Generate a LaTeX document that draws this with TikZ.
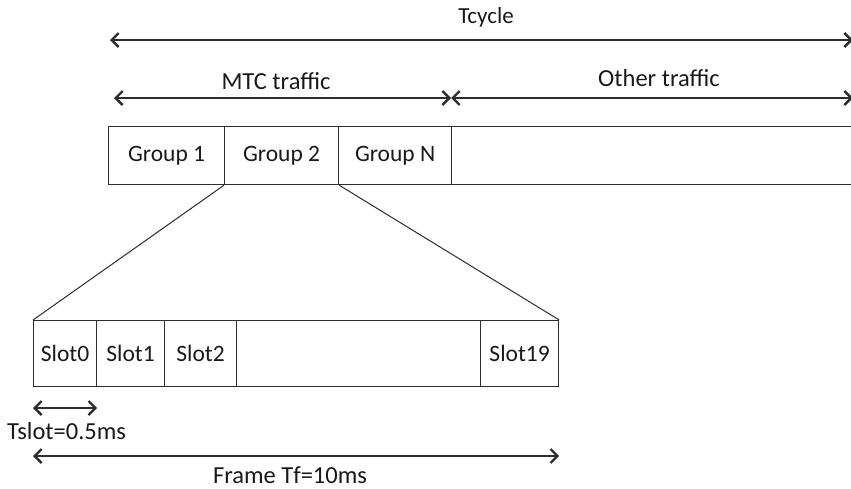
\documentclass[tikz,border=0pt]{standalone}
\usepackage{fontspec}
\setmainfont{Carlito}
\usetikzlibrary{arrows.meta}
\definecolor{ln}{RGB}{45,45,45}
\tikzset{
  x=1pt,y=-1pt,
  cell/.style={draw=ln,line width=1.2pt,minimum height=58pt,inner sep=0pt,anchor=north west},
  scell/.style={draw=ln,line width=1.2pt,minimum height=66pt,inner sep=0pt,anchor=north west},
  dim/.style={draw=ln,line width=1.2pt,{Straight Barb[length=7pt,width=14pt,line width=2.4pt]}-{Straight Barb[length=7pt,width=14pt,line width=2.4pt]}},
  lbl/.style={font=\fontsize{23.5}{27}\selectfont,text=black!90,inner sep=0pt},
  big/.style={font=\fontsize{24.5}{28}\selectfont,text=black!90,inner sep=0pt},
  tcy/.style={font=\fontsize{23}{27}\selectfont,text=black!90,inner sep=0pt},
  zoomln/.style={draw=ln,line width=1pt}
}
\begin{document}
\begin{tikzpicture}
\useasboundingbox (0,0) rectangle (851,488);
% top row
\node[cell,minimum width=116pt] (g1) at (108,126) {};
\node[lbl] at (g1.center) {Group 1};
\node[cell,minimum width=114pt] (g2) at (224,126) {};
\node[lbl] at (g2.center) {Group 2};
\node[cell,minimum width=113pt] (gn) at (338,126) {};
\node[lbl] at (gn.center) {Group N};
\node[cell,minimum width=420pt] (rest) at (451,126) {};
% bottom row
\node[scell,minimum width=63pt] (s0) at (33,320) {};
\node[lbl] at (s0.center) {Slot0};
\node[scell,minimum width=68pt] (s1) at (96,320) {};
\node[lbl] at (s1.center) {Slot1};
\node[scell,minimum width=72pt] (s2) at (164,320) {};
\node[lbl] at (s2.center) {Slot2};
\node[scell,minimum width=244pt] (sm) at (236,320) {};
\node[scell,minimum width=78pt] (s19) at (480,320) {};
\node[lbl] at (s19.center) {Slot19};
% zoom lines
\draw[zoomln] (g2.south west) -- (s0.north west);
\draw[zoomln] (g2.south east) -- (s19.north east);
% arrows
\coordinate (cl) at (110,40);
\coordinate (cr) at (853,40);
\draw[dim] (cl) -- (cr);
\node[tcy] (tc) at (486,17) {Tcycle};
\coordinate (ml) at (114,98);
\coordinate (mm) at (451,98);
\coordinate (mr) at (853,98);
\draw[dim] (ml) -- (mm);
\draw[dim] (mm) -- (mr);
\node[big] (mt) at (276,81) {MTC traffic};
\node[big] (ot) at (659,78) {Other traffic};
\draw[dim] (s0.south west |- 0,408) -- (s0.south east |- 0,408);
\node[big,anchor=west] (ts) at (7,431) {Tslot=0.5ms};
\draw[dim] (s0.south west |- 0,456) -- (s19.south east |- 0,456);
\node[big] (ft) at (290,475) {Frame Tf=10ms};
\end{tikzpicture}
\end{document}
